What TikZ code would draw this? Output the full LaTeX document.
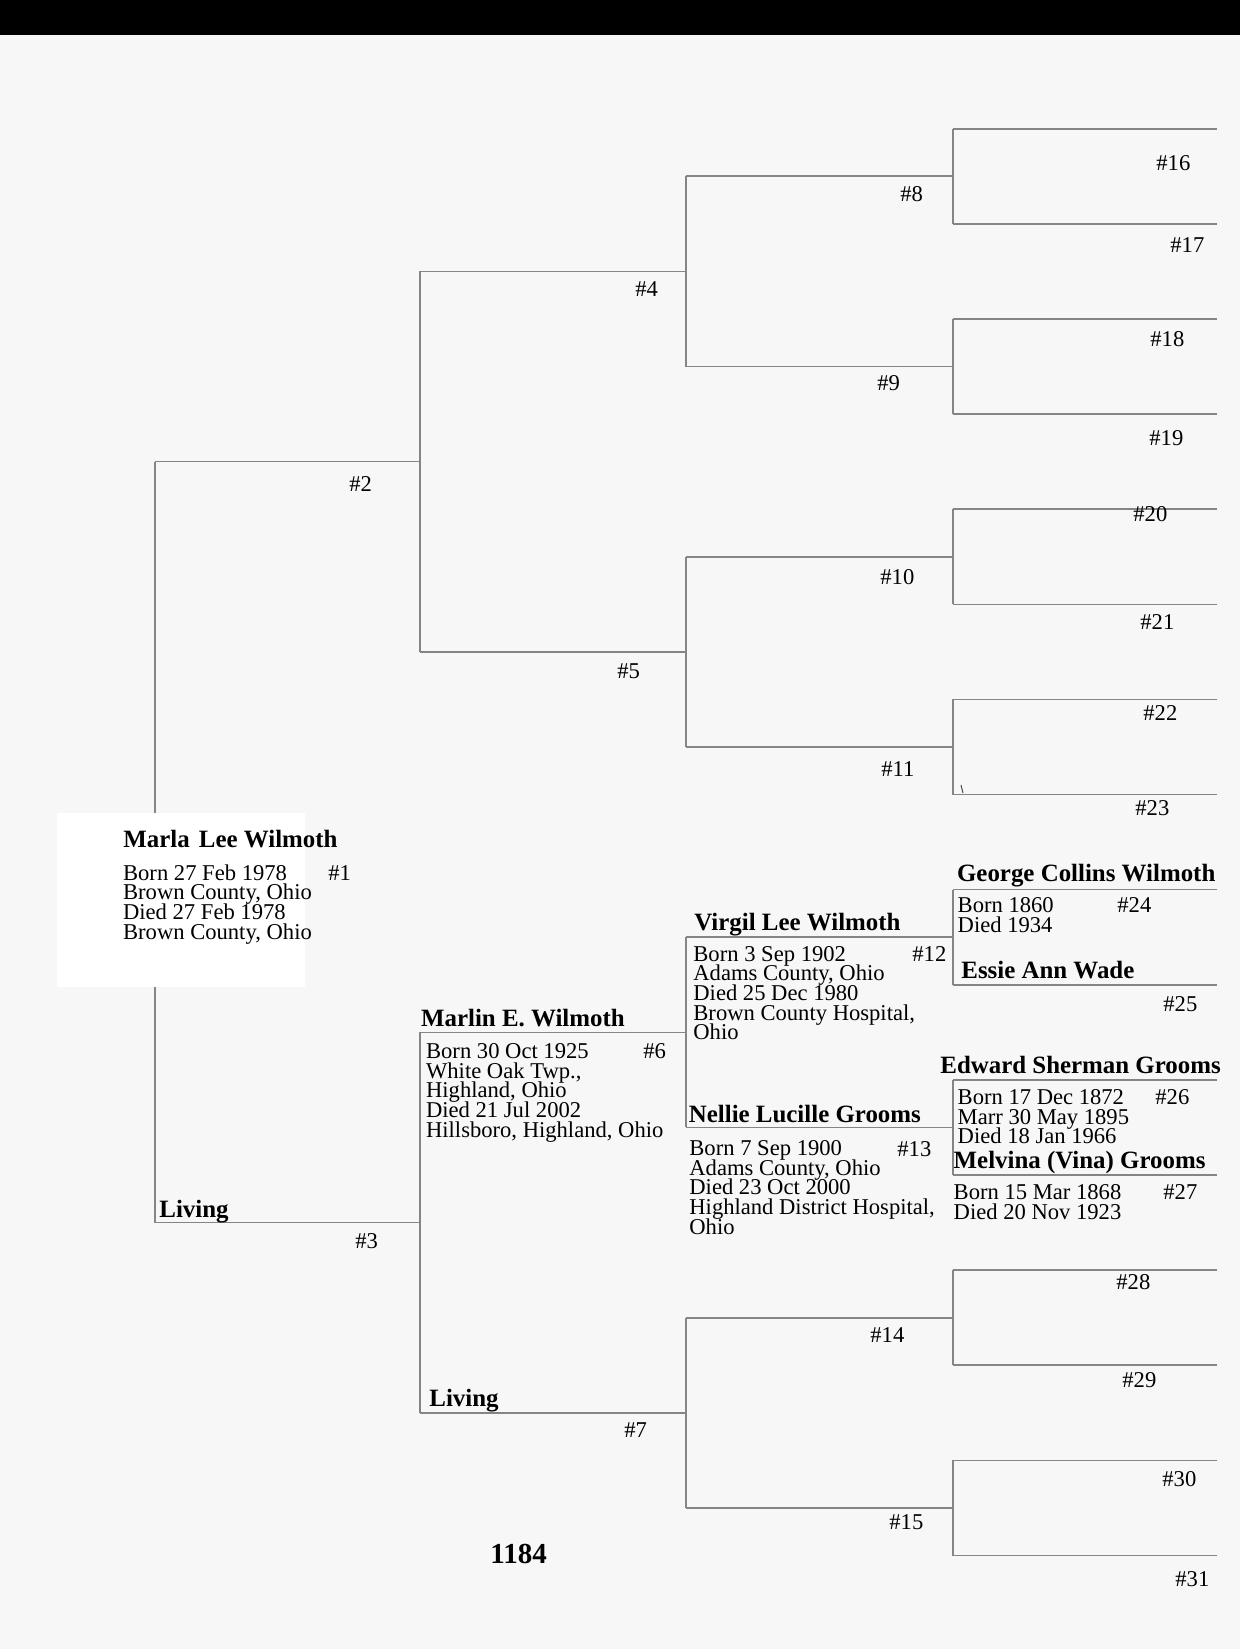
\documentclass[tikz,border=0pt]{standalone}
\usepackage{fontspec}
\setmainfont{Liberation Serif}
\newcommand\blk[1]{\vtop{\lineskiplimit=-\maxdimen\lineskip=0pt\baselineskip=9.85pt\halign{##\hfil\cr#1\crcr}}}
\begin{document}
\begin{tikzpicture}[x=0.5pt,y=-0.5pt,
  tree/.style={draw=black!48, line width=0.8pt},
  nm/.style={anchor=base west, inner sep=0pt, font=\fontsize{12.45}{14}\selectfont\bfseries},
  dt/.style={anchor=base west, inner sep=0pt, font=\fontsize{11.3}{9.85}\selectfont},
  lbl/.style={anchor=base west, inner sep=0pt, font=\fontsize{11.3}{13}\selectfont},
  pg/.style={anchor=base west, inner sep=0pt, font=\fontsize{14.5}{16}\selectfont\bfseries}]
\useasboundingbox (0,0) rectangle (1240,1649);
\fill[black!3] (0,0) rectangle (1240,1649);
\fill[black] (0,0) rectangle (1240,35);
% horizontal lines of the chart: person/slot/left x/right x
\foreach \k/\n/\xa/\xb in {2/7/155/420, 3/23/155/420,
  4/3/420/686, 5/11/420/686, 6/19/420/686, 7/27/420/686,
  8/1/686/953, 9/5/686/953, 10/9/686/953, 11/13/686/953, 12/17/686/953, 13/21/686/953, 14/25/686/953, 15/29/686/953,
  16/0/953/1217, 17/2/953/1217, 18/4/953/1217, 19/6/953/1217, 20/8/953/1217, 21/10/953/1217, 22/12/953/1217, 23/14/953/1217,
  24/16/953/1217, 25/18/953/1217, 26/20/953/1217, 27/22/953/1217, 28/24/953/1217, 29/26/953/1217, 30/28/953/1217, 31/30/953/1217}{
  \coordinate (a\k) at (\xa,{128.7+47.56*\n});
  \coordinate (b\k) at (\xb,{128.7+47.56*\n});
  \draw[tree] (a\k) -- (b\k);
}
% vertical lines joining the two parents of each person
\foreach \k in {1,...,15}{
  \pgfmathtruncatemacro\l{2*\k}
  \pgfmathtruncatemacro\r{2*\k+1}
  \draw[tree] (a\l) -- (a\r);
}
% small scan mark
\coordinate (tk1) at (961,785);
\coordinate (tk2) at (963,793);
\draw[black!70, line width=0.5pt] (tk1) -- (tk2);
% white box behind person 1
\fill[white] (57,813) rectangle (305,987);
% names
\node[nm] (nm-marla) at (123,847.3) {Marla\hspace{0.12em} Lee Wilmoth};
\node[nm] (nm-marlin) at (420.7,1026.7) {Marlin E. Wilmoth};
\node[nm] (nm-virgil) at (694,930) {Virgil Lee Wilmoth};
\node[nm] (nm-nellie) at (688.5,1122.5) {Nellie Lucille Grooms};
\node[nm] (nm-george) at (956.7,881.7) {George Collins Wilmoth};
\node[nm] (nm-essie) at (961,978.3) {Essie Ann Wade};
\node[nm] (nm-edward) at (940,1073.3) {Edward Sherman Grooms};
\node[nm] (nm-melvina) at (953.3,1168.3) {Melvina (Vina) Grooms};
\node[nm] (nm-living3) at (159,1217) {Living};
\node[nm] (nm-living7) at (429,1406) {Living};
\node[pg] (page) at (490,1563.5) {1184};
% details
\node[dt] (dt-marla) at (122.7,880) {\blk{Born 27 Feb 1978\cr Brown County, Ohio\cr Died 27 Feb 1978\cr Brown County, Ohio}};
\node[dt] (dt-marlin) at (425.7,1058.3) {\blk{Born 30 Oct 1925\cr White Oak Twp.,\cr Highland, Ohio\cr Died 21 Jul 2002\cr Hillsboro, Highland, Ohio}};
\node[dt] (dt-virgil) at (693,961) {\blk{Born 3 Sep 1902\cr Adams County, Ohio\cr Died 25 Dec 1980\cr Brown County Hospital,\cr Ohio}};
\node[dt] (dt-nellie) at (689,1155.5) {\blk{Born 7 Sep 1900\cr Adams County, Ohio\cr Died 23 Oct 2000\cr Highland District Hospital,\cr Ohio}};
\node[dt] (dt-george) at (957.3,912.7) {\blk{Born 1860\cr Died 1934}};
\node[dt] (dt-edward) at (957.3,1104.3) {\blk{Born 17 Dec 1872\cr Marr 30 May 1895\cr Died 18 Jan 1966}};
\node[dt] (dt-melvina) at (953.3,1199.3) {\blk{Born 15 Mar 1868\cr Died 20 Nov 1923}};
% numbers
\foreach \k/\x/\y in {1/328/880, 2/349/491.5, 3/355/1248.5, 4/635/296.5, 5/617/678.5, 6/643/1058, 7/624/1437,
  8/900/201.7, 9/877/390.7, 10/880/584.5, 11/881/776.5, 12/912/961.7, 13/897/1156, 14/870/1342.5, 15/889/1529.5,
  16/1156/170, 17/1170/252.7, 18/1150/346.7, 19/1149/445.7, 20/1133/521.7, 21/1140/629, 22/1143/720.5, 23/1135/815.5,
  24/1117/912.7, 25/1163/1011, 26/1155/1104.3, 27/1163/1199.3, 28/1116/1289.5, 29/1122/1387.5, 30/1162/1486.5, 31/1175/1586.5}{
  \node[lbl] (n\k) at (\x,\y) {\#\k};
}
\end{tikzpicture}
\end{document}
